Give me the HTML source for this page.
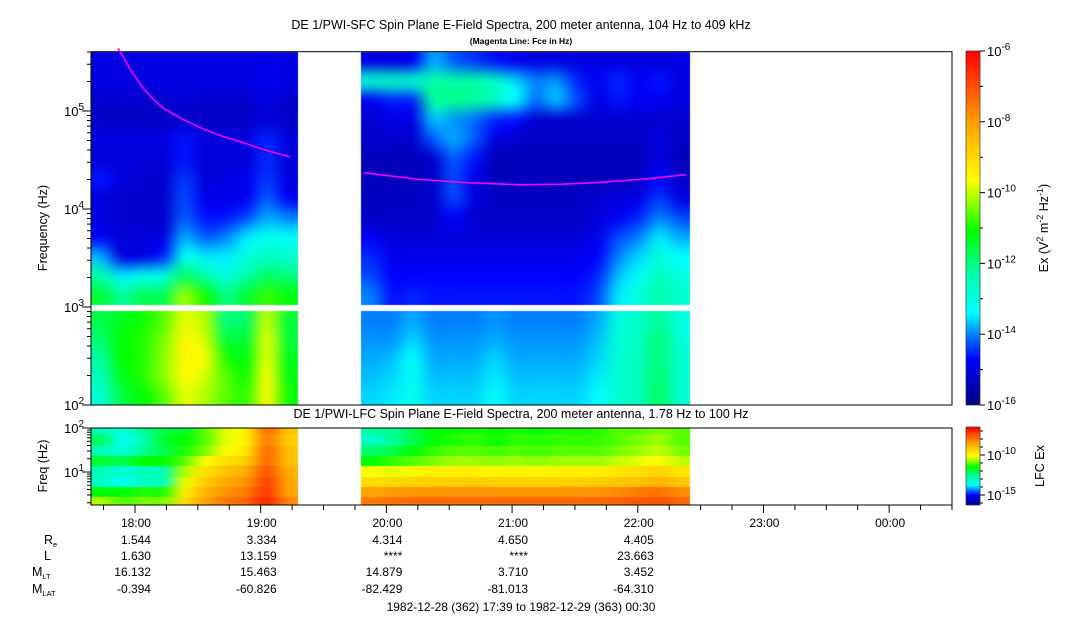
<!DOCTYPE html>
<html><head><meta charset="utf-8">
<style>
html,body{margin:0;padding:0;background:#fff;}
#wrap{position:relative;width:1083px;height:620px;overflow:hidden;font-family:"Liberation Sans",Arial,sans-serif;}
canvas,svg{position:absolute;left:0;top:0;}
svg text{font-family:"Liberation Sans",Arial,sans-serif;fill:#000;}
</style></head>
<body>
<div id="wrap">
<canvas id="cv" width="1083" height="620"></canvas>
<svg id="sv" width="1083" height="620" xmlns="http://www.w3.org/2000/svg"></svg>
</div>
<script>
// ---------- DATA ----------
const seg1Range = [0, 99];
const seg2Range = [129, 286];
const sfcUpperRows = [5.5,5.3,5.1,4.9,4.7,4.5,4.3,4.1,3.9,3.7,3.5,3.3,3.1];
const sfcLowerRows = [2.9,2.7,2.5,2.3,2.1];
const sfcSeg1Upper = [
[-15.0,-15.0,-15.0,-15.0,-15.0,-15.0,-15.0,-15.0,-14.9,-15.0],
[-15.0,-15.0,-15.0,-15.0,-15.0,-15.0,-15.0,-15.0,-14.8,-15.0],
[-15.2,-15.2,-15.2,-15.2,-15.1,-15.2,-15.2,-15.2,-15.0,-15.2],
[-15.3,-15.3,-15.3,-15.3,-15.2,-15.3,-15.3,-15.3,-15.1,-15.3],
[-15.0,-15.0,-15.0,-15.0,-14.6,-15.0,-15.0,-15.0,-14.5,-15.0],
[-15.1,-15.1,-15.1,-15.1,-14.6,-15.1,-15.1,-15.1,-14.5,-15.1],
[-14.6,-15.0,-15.2,-15.2,-14.4,-15.1,-15.0,-14.9,-14.4,-15.0],
[-15.0,-15.2,-15.2,-15.2,-14.3,-14.9,-14.9,-14.8,-14.2,-14.8],
[-15.0,-15.2,-15.2,-15.2,-14.2,-14.6,-14.6,-14.3,-13.8,-14.0],
[-14.8,-15.1,-15.1,-15.0,-13.8,-14.2,-14.0,-13.5,-13.2,-13.3],
[-13.8,-15.0,-15.0,-14.5,-13.2,-13.5,-13.5,-13.0,-12.6,-12.8],
[-12.3,-13.5,-13.2,-13.0,-11.8,-12.3,-13.0,-12.3,-11.8,-12.0],
[-11.5,-12.2,-11.7,-11.7,-10.2,-11.0,-12.0,-11.5,-10.8,-11.2]];
const sfcSeg1Lower = [
[-11.6,-11.3,-11.0,-10.6,-9.8,-10.1,-12.0,-11.8,-10.0,-11.5],
[-11.9,-11.1,-10.9,-10.4,-9.5,-9.9,-11.5,-11.5,-9.8,-11.5],
[-12.2,-11.1,-10.9,-10.3,-9.5,-9.7,-10.9,-11.2,-9.8,-11.3],
[-12.5,-11.3,-10.9,-10.3,-9.6,-9.9,-10.6,-11.0,-9.6,-11.2],
[-12.8,-11.6,-11.1,-10.6,-9.8,-10.1,-10.6,-10.8,-9.5,-11.0]];
const sfcSeg2Upper = [
[-15.0,-15.0,-14.8,-13.8,-14.2,-14.4,-14.6,-14.8,-15.0,-15.0,-15.0,-15.0,-15.0,-15.0,-15.0,-15.0],
[-12.8,-12.6,-12.8,-12.3,-12.3,-12.3,-12.6,-13.6,-14.0,-13.9,-14.5,-14.8,-14.5,-14.8,-14.6,-15.0],
[-14.8,-14.5,-14.5,-12.2,-12.1,-12.2,-12.7,-13.4,-14.1,-13.7,-14.3,-15.0,-14.6,-14.8,-14.8,-15.0],
[-15.2,-15.0,-15.0,-13.7,-13.9,-14.1,-14.5,-14.6,-15.2,-15.2,-15.2,-15.2,-15.2,-15.2,-15.2,-15.2],
[-15.2,-15.2,-15.2,-14.2,-13.8,-14.2,-15.0,-15.2,-15.3,-15.3,-15.3,-15.3,-15.3,-15.3,-15.0,-15.3],
[-15.4,-15.4,-15.4,-15.2,-14.2,-14.6,-15.4,-15.4,-15.4,-15.4,-15.4,-15.4,-15.4,-15.4,-15.0,-15.4],
[-15.4,-15.4,-15.4,-15.2,-14.3,-14.9,-15.4,-15.4,-15.4,-15.4,-15.4,-15.4,-15.4,-15.3,-14.7,-15.3],
[-15.3,-15.3,-15.3,-15.2,-14.3,-15.0,-15.3,-15.3,-15.3,-15.3,-15.3,-15.2,-15.1,-15.0,-14.4,-15.0],
[-15.3,-15.3,-15.3,-15.2,-14.7,-15.2,-15.3,-15.3,-15.3,-15.3,-15.3,-15.1,-14.8,-14.5,-14.0,-14.3],
[-14.8,-15.1,-15.1,-15.1,-15.1,-15.1,-15.1,-15.1,-15.1,-15.1,-15.1,-14.9,-14.3,-14.0,-13.5,-13.8],
[-14.5,-14.9,-14.9,-14.9,-14.9,-14.9,-14.9,-14.9,-14.9,-14.9,-14.9,-14.7,-14.0,-13.6,-13.0,-13.4],
[-14.3,-14.7,-14.7,-14.7,-14.7,-14.7,-14.7,-14.7,-14.7,-14.7,-14.7,-14.5,-13.7,-13.3,-12.6,-13.0],
[-14.0,-14.6,-14.5,-14.6,-14.6,-14.6,-14.6,-14.6,-14.6,-14.6,-14.6,-14.3,-13.5,-13.0,-12.3,-12.8]];
const sfcSeg2Lower = [
[-14.0,-14.0,-13.8,-14.0,-14.0,-14.0,-13.9,-14.0,-14.0,-14.0,-14.0,-13.8,-13.0,-12.7,-12.2,-13.0],
[-13.9,-13.9,-13.6,-13.9,-13.9,-13.9,-13.8,-13.9,-13.9,-13.9,-13.9,-13.7,-12.9,-12.6,-12.0,-12.9],
[-13.8,-13.7,-13.4,-13.8,-13.8,-13.8,-13.6,-13.8,-13.8,-13.8,-13.8,-13.6,-12.8,-12.5,-12.0,-12.8],
[-13.7,-13.6,-13.3,-13.7,-13.7,-13.7,-13.5,-13.7,-13.7,-13.7,-13.7,-13.5,-12.8,-12.5,-11.9,-12.8],
[-13.6,-13.5,-13.2,-13.6,-13.6,-13.6,-13.3,-13.6,-13.6,-13.6,-13.6,-13.4,-12.8,-12.5,-11.8,-12.8]];
const lfcEdges = [2.0,1.86,1.60,1.37,1.14,0.88,0.65,0.44,0.25];
const lfcSeg1 = [
[-12.8,-13.3,-12.5,-12.0,-11.8,-11.0,-10.2,-9.8,-7.8,-9.0],
[-12.2,-13.5,-12.8,-11.8,-11.5,-11.0,-10.2,-9.8,-8.0,-9.2],
[-12.8,-13.2,-12.5,-12.0,-11.3,-10.8,-10.0,-9.6,-7.8,-9.0],
[-11.8,-12.0,-11.5,-11.5,-11.0,-10.0,-9.5,-9.2,-7.8,-9.0],
[-12.8,-13.2,-12.8,-12.8,-10.5,-9.6,-9.0,-8.6,-7.5,-8.7],
[-13.0,-13.5,-13.0,-12.8,-10.2,-9.2,-8.6,-8.3,-7.3,-8.6],
[-11.5,-11.5,-11.3,-11.3,-9.8,-8.8,-8.3,-8.0,-7.2,-8.5],
[-10.5,-11.0,-10.8,-10.8,-9.5,-8.5,-8.0,-7.7,-7.0,-8.2]];
const lfcSeg2 = [
[-12.5,-12.5,-12.0,-11.5,-11.5,-11.3,-11.5,-11.3,-11.5,-11.3,-11.3,-11.3,-11.0,-11.0,-10.8,-11.0],
[-13.0,-12.5,-12.0,-11.5,-11.3,-11.2,-11.4,-11.2,-11.3,-11.2,-11.2,-11.2,-11.0,-10.8,-10.6,-11.0],
[-12.2,-12.0,-11.5,-11.2,-11.0,-11.0,-11.1,-11.0,-11.1,-11.0,-11.0,-11.0,-10.8,-10.6,-10.4,-10.8],
[-11.5,-11.2,-11.0,-10.8,-10.6,-10.6,-10.7,-10.6,-10.7,-10.6,-10.6,-10.6,-10.4,-10.2,-10.0,-10.4],
[-10.0,-10.2,-10.0,-9.8,-9.8,-9.8,-9.9,-9.8,-9.9,-9.8,-9.8,-9.8,-9.6,-9.5,-9.3,-9.6],
[-9.5,-9.4,-9.3,-9.3,-9.3,-9.2,-9.3,-9.3,-9.3,-9.3,-9.3,-9.2,-9.1,-9.0,-8.8,-9.1],
[-8.5,-8.4,-8.3,-8.3,-8.3,-8.3,-8.3,-8.3,-8.3,-8.3,-8.3,-8.3,-8.2,-8.0,-7.9,-8.2],
[-8.0,-7.9,-7.8,-7.8,-7.8,-7.8,-7.8,-7.8,-7.8,-7.8,-7.8,-7.8,-7.7,-7.6,-7.5,-7.8]];
const fce1Time = [13, 19, 25, 30, 35, 44, 54, 63, 72, 83, 95];
const fce1Freq = [436000, 260000, 170000, 130000, 105000, 82000, 65000, 55000, 48000, 40000, 34000];
const fce2Time = [130, 157, 180, 205, 225, 242, 264, 284];
const fce2Freq = [23500, 20000, 18500, 17700, 17900, 18600, 20200, 22400];
const hourLabels = ["18:00","19:00","20:00","21:00","22:00","23:00","00:00"];
const hourMinutes = [21,81,141,201,261,321,381];
const ephemValues = [
["1.544","3.334","4.314","4.650","4.405"],
["1.630","13.159","****","****","23.663"],
["16.132","15.463","14.879","3.710","3.452"],
["-0.394","-60.826","-82.429","-81.013","-64.310"]];
const sfcCbarExps = [-6,-8,-10,-12,-14,-16];
const lfcCbarExps = [-10,-15];

// ---------- GEOMETRY ----------
const X0=91, X1=952, TMAX=411;
const xT = m => X0 + m*(X1-X0)/TMAX;
const YT0=405, YT1=51.7, LF0=2, LF1=5.605;
const yS = lf => YT0 - (lf-LF0)*(YT0-YT1)/(LF1-LF0);
const YL0=428, YL1=505, LL0=2.0, LL1=0.25;
const yL = lf => YL0 + (LL0-lf)*(YL1-YL0)/(LL0-LL1);

const stops=[[0,[0,0,130]],[0.13,[0,0,255]],[0.2,[0,128,255]],[0.26,[0,255,255]],[0.37,[0,255,170]],[0.49,[0,255,0]],[0.636,[255,255,0]],[0.8,[255,160,0]],[1,[255,0,0]]];
function cmap(t){t=Math.max(0,Math.min(1,t));for(let i=1;i<stops.length;i++){if(t<=stops[i][0]){const a=stops[i-1],b=stops[i];const f=(t-a[0])/(b[0]-a[0]);return a[1].map((c,k)=>Math.round(c+(b[1][k]-c)*f));}}return stops[stops.length-1][1];}
const sfcT = v => (v+16)/10;
const lfcT = v => (v+16.25)/9.75;

const cv=document.getElementById('cv');const ctx=cv.getContext('2d');
function drawBlock(mat, tfn, x0,x1,y0,y1){
  const rows=mat.length, cols=mat[0].length;
  const off=document.createElement('canvas');off.width=cols;off.height=rows;
  const oc=off.getContext('2d');const img=oc.createImageData(cols,rows);
  for(let r=0;r<rows;r++)for(let c=0;c<cols;c++){const col=cmap(tfn(mat[r][c]));const i=(r*cols+c)*4;img.data[i]=col[0];img.data[i+1]=col[1];img.data[i+2]=col[2];img.data[i+3]=255;}
  oc.putImageData(img,0,0);
  ctx.imageSmoothingEnabled=true;ctx.imageSmoothingQuality='high';
  ctx.drawImage(off,x0,y0,x1-x0,y1-y0);
}
drawBlock(sfcSeg1Upper,sfcT,xT(seg1Range[0]),xT(seg1Range[1]),yS(LF1),yS(3.02));
drawBlock(sfcSeg1Lower,sfcT,xT(seg1Range[0]),xT(seg1Range[1]),yS(2.955),yS(2.0));
drawBlock(sfcSeg2Upper,sfcT,xT(seg2Range[0]),xT(seg2Range[1]),yS(LF1),yS(3.02));
drawBlock(sfcSeg2Lower,sfcT,xT(seg2Range[0]),xT(seg2Range[1]),yS(2.955),yS(2.0));
function drawLfc(mat,r0,r1){
  for(let r=0;r<mat.length;r++){
    drawBlock([mat[r]],lfcT,xT(r0),xT(r1),yL(lfcEdges[r]),yL(lfcEdges[r+1]));
  }
}
drawLfc(lfcSeg1,seg1Range[0],seg1Range[1]);
drawLfc(lfcSeg2,seg2Range[0],seg2Range[1]);
for(let y=51;y<405;y++){const c=cmap((405-y)/354);ctx.fillStyle=`rgb(${c})`;ctx.fillRect(966,y,14,1);}
for(let y=427;y<505;y++){const c=cmap((505-y)/78);ctx.fillStyle=`rgb(${c})`;ctx.fillRect(966,y,14,1);}

// ---------- SVG ----------
const NS='http://www.w3.org/2000/svg';const sv=document.getElementById('sv');
function el(tag,attrs,parent){const e=document.createElementNS(NS,tag);for(const k in attrs)e.setAttribute(k,attrs[k]);(parent||sv).appendChild(e);return e;}
function txt(x,y,s,anchor,size,name){const t=el('text',{x:x,y:y,'text-anchor':anchor||'start','font-size':size||12});t.textContent=s;


return t;}
function pow10(x,y,exp,anchor,name){const t=el('text',{x:x,y:y,'text-anchor':anchor||'start','font-size':13});


const a=el('tspan',{},t);a.textContent='10';const b=el('tspan',{dy:-6,'font-size':10},t);b.textContent=String(exp);return t;}

const f1=el('rect',{x:X0,y:YT1,width:X1-X0,height:YT0-YT1,fill:'none',stroke:'#000','stroke-width':1});


const f2=el('rect',{x:X0,y:YL0,width:X1-X0,height:YL1-YL0,fill:'none',stroke:'#000','stroke-width':1});


const cb1=el('rect',{x:966,y:51,width:14,height:354,fill:'none',stroke:'#000','stroke-width':0.5});


const cb2=el('rect',{x:966,y:427,width:14,height:78,fill:'none',stroke:'#000','stroke-width':0.5});



txt(521,29,'DE 1/PWI-SFC  Spin Plane E-Field Spectra, 200 meter antenna, 104 Hz to 409 kHz','middle',12.5,'sfc-title');
const st=txt(521,44,'(Magenta Line: Fce in Hz)','middle',8.5,'sfc-subtitle');st.setAttribute('font-weight','bold');
txt(521,418,'DE 1/PWI-LFC  Spin Plane E-Field Spectra, 200 meter antenna, 1.78 Hz to 100 Hz','middle',12.5,'lfc-title');

let tk='';
for(let d=2;d<=5;d++){for(let k=1;k<10;k++){const lf=d+Math.log10(k);if(lf>LF1)break;const y=yS(lf);tk+=`M${X0} ${y}h${k===1?-9:-4}`;}}
const p1=el('path',{d:tk,stroke:'#000','stroke-width':1,fill:'none'});


[2,3,4,5].forEach(d=>pow10(84,yS(d)+5,d,'end','sfc-y-tick-label'));
const yt=txt(0,0,'Frequency (Hz)','middle',12.5,'sfc-y-axis-title');yt.setAttribute('transform','translate(47,228) rotate(-90)');

tk='';
for(let d=0;d<=2;d++){for(let k=1;k<10;k++){const lf=d+Math.log10(k);if(lf>2.001)break;if(lf<LL1)continue;const y=yL(lf);tk+=`M${X0} ${y}h${k===1?-9:-4}`;}}
const p2=el('path',{d:tk,stroke:'#000','stroke-width':1,fill:'none'});


[1,2].forEach(d=>pow10(84,yL(d)+5,d,'end','lfc-y-tick-label'));
const yt2=txt(0,0,'Freq (Hz)','middle',12.5,'lfc-y-axis-title');yt2.setAttribute('transform','translate(47,466) rotate(-90)');

tk='';
for(let m=6;m<=TMAX;m+=15){const major=((m-21)%60===0);tk+=`M${xT(m)} ${YL1}v${major?8:5}`;}
const p3=el('path',{d:tk,stroke:'#000','stroke-width':1,fill:'none'});


hourLabels.forEach((h,i)=>txt(xT(hourMinutes[i])+16,527,h,'end',12,'x-tick-label'));

const eyy=[544,560,576,593];
const en=[['R','e'],['L',''],['M','LT'],['M','LAT']];
en.forEach((n,i)=>{const t=el('text',{x:n[1]&&n[0]!=='R'?32:44,y:eyy[i],'font-size':12.5});


const a=el('tspan',{},t);a.textContent=n[0];if(n[1]){const b=el('tspan',{dy:3,'font-size':7.5},t);b.textContent=n[1];}});
ephemValues.forEach((row,i)=>row.forEach((v,j)=>txt(xT(hourMinutes[j])+16,eyy[i],v,'end',12,'ephemeris-value')));
txt(521,611,'1982-12-28 (362) 17:39 to 1982-12-29 (363) 00:30','middle',12,'time-range-label');

tk='';
for(let e=-16;e<=-6;e++){const y=405-(e+16)*35.4;tk+=`M980 ${y}h${e%2===0?5:3}`;}
for(let e=-16;e<=-7;e++){const y=505-(e+16.25)*8;tk+=`M980 ${y}h${e%5===0?5:3}`;}
const p4=el('path',{d:tk,stroke:'#000','stroke-width':1,fill:'none'});


sfcCbarExps.forEach(e=>pow10(987,405-(e+16)*35.4+5,e,'start','sfc-colorbar-label'));
lfcCbarExps.forEach(e=>pow10(987,505-(e+16.25)*8+5,e,'start','lfc-colorbar-label'));
const ct=el('text',{'font-size':12.5,transform:'translate(1048,228) rotate(-90)','text-anchor':'middle'});


[['Ex (V',0,12.5],['2',-5,9],[' m',5,12.5],['-2',-5,9],[' Hz',5,12.5],['-1',-5,9],[')',5,12.5]].forEach(s=>{const t=el('tspan',{dy:s[1],'font-size':s[2]},ct);t.textContent=s[0];});
const lt=txt(0,0,'LFC Ex','middle',12.5,'lfc-colorbar-title');lt.setAttribute('transform','translate(1044,466) rotate(-90)');

function fceLine(times,freqs,name){let d='';times.forEach((t,i)=>{d+=(i?'L':'M')+xT(t)+' '+yS(Math.log10(freqs[i]));});
const p=el('path',{d:d,stroke:'#ff00ff','stroke-width':1.6,fill:'none','stroke-linejoin':'round'});

}
fceLine(fce1Time,fce1Freq,'fce-line-seg1');
fceLine(fce2Time,fce2Freq,'fce-line-seg2');
</script>
</body></html>
